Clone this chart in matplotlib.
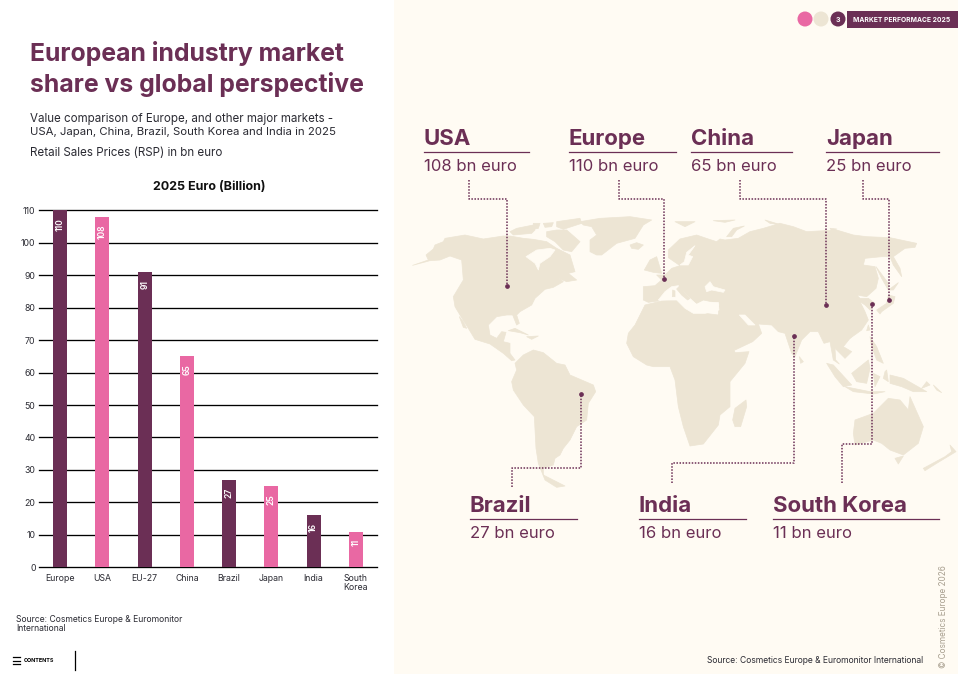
"""European industry market share vs global perspective - bar chart and map page."""

import matplotlib
matplotlib.use("Agg")
import matplotlib.pyplot as plt
from matplotlib.patches import Circle, Polygon, Rectangle

# bar chart data
categories = ["Europe", "USA", "EU-27", "China", "Brazil", "Japan", "India", "South\nKorea"]
values = [110, 108, 91, 65, 27, 25, 16, 11]
y_ticks = [0, 10, 20, 30, 40, 50, 60, 70, 80, 90, 100, 110]

# map callouts
map_names = ["USA", "Europe", "China", "Japan", "Brazil", "India", "South Korea"]
map_values = [108, 110, 65, 25, 27, 16, 11]

DARK = "#6B2F55"
PINK = "#E968A3"
SAND = "#EDE5D4"
PANEL = "#FFFBF3"
INK = "#2B2B33"

W, H = 958, 674

plt.rcParams["font.family"] = ["Inter", "DejaVu Sans"]

# outlines, in 3x crop units (x0, y0 is the crop corner)
west_shapes = [
    [(38, 196), (85, 180), (78, 165), (100, 147), (105, 135), (130, 125), (135, 115), (195, 105),
     (250, 117), (310, 108), (330, 108), (370, 115), (400, 118), (440, 125), (470, 145), (510, 165),
     (525, 215), (505, 220), (530, 240), (500, 245), (475, 235), (490, 245), (460, 262), (435, 268),
     (405, 295), (395, 315), (360, 335), (350, 345), (358, 370), (350, 375), (338, 345), (320, 345),
     (290, 350), (265, 375), (270, 405), (290, 415), (305, 395), (318, 397), (310, 425), (330, 430),
     (330, 460), (345, 480), (335, 482), (310, 460), (270, 432), (225, 418), (205, 385), (180, 345),
     (165, 320), (160, 290), (190, 240), (185, 180), (150, 168), (120, 180), (90, 182)],
    [(178, 350), (190, 365), (200, 385), (190, 382)],
    [(330, 95), (350, 85), (400, 75), (405, 90), (395, 100), (340, 105)],
    [(440, 95), (470, 90), (500, 90), (540, 125), (515, 155), (490, 150), (465, 125), (440, 110)],
    [(470, 65), (540, 55), (545, 70), (490, 88), (470, 80)],
    [(400, 70), (420, 70), (415, 85), (400, 88)],
    [(430, 70), (460, 68), (455, 80), (435, 82)],
    [(540, 65), (600, 55), (690, 50), (755, 60), (730, 75), (705, 115), (650, 130), (605, 165),
     (590, 165), (570, 155), (570, 120), (590, 105), (575, 80), (550, 75)],
    [(690, 135), (710, 128), (730, 135), (715, 148), (695, 145)],
    [(325, 392), (345, 385), (385, 405), (360, 398)],
    [(380, 410), (415, 408), (395, 418)],
    [(335, 545), (350, 510), (345, 490), (370, 465), (400, 450), (430, 458), (470, 490), (495, 495),
     (510, 525), (580, 555), (587, 575), (565, 610), (560, 660), (530, 680), (510, 720), (490, 745),
     (480, 765), (465, 775), (460, 795), (430, 805), (430, 825), (495, 858), (470, 862), (435, 840),
     (415, 790), (408, 745), (403, 650), (370, 615), (340, 570)],
]
west_water = [
    [(378, 170), (410, 150), (450, 145), (465, 150), (450, 170), (420, 190), (415, 210), (405, 190)],
]
east_shapes = [
    # Eurasia
    [(-80, 260), (-45, 257), (-25, 240), (-40, 225), (-15, 225), (5, 205), (30, 197), (-5, 173),
     (-5, 150), (30, 117), (80, 105), (115, 117), (140, 125), (150, 117), (165, 120), (205, 115),
     (240, 95), (280, 85), (330, 70), (370, 80), (410, 95), (500, 90), (550, 105), (590, 110),
     (660, 113), (740, 130), (735, 142), (705, 145), (670, 170), (690, 205), (695, 230), (670, 195),
     (660, 170), (635, 170), (585, 175), (580, 195), (615, 200), (625, 235), (618, 265), (590, 290),
     (560, 285), (570, 295), (595, 295), (615, 310), (600, 330), (585, 315), (570, 305), (585, 335),
     (595, 360), (575, 390), (540, 415), (520, 440), (545, 455), (525, 475), (495, 445), (497, 480),
     (508, 492), (490, 480), (480, 425), (462, 430), (445, 395), (420, 395), (395, 420), (375, 470),
     (365, 460), (345, 400), (325, 395), (305, 375), (265, 372), (275, 400), (248, 425), (195, 450),
     (140, 358), (145, 345), (148, 310), (100, 300), (80, 310), (60, 295), (30, 280), (0, 262),
     (-35, 303), (-65, 307), (-80, 300)],
    # Africa
    [(-75, 315), (-25, 303), (20, 300), (45, 325), (70, 340), (105, 340), (145, 345), (190, 440),
     (195, 458), (237, 455), (225, 490), (180, 545), (180, 620), (150, 645), (145, 675), (100, 732),
     (60, 738), (40, 680), (25, 620), (15, 540), (0, 500), (-50, 500), (-70, 495), (-110, 470),
     (-130, 430), (-125, 400), (-105, 375)],
    [(195, 625), (228, 600), (230, 620), (212, 680), (195, 680), (188, 660)],
    [(388, 470), (400, 485), (392, 490)],
    [(-77, 210), (-60, 180), (-40, 170), (-25, 220), (-50, 217)],
    [(170, 110), (190, 85), (223, 78), (200, 90), (185, 110)],
    [(15, 65), (75, 65), (45, 80)],
    [(130, 62), (195, 60), (165, 67)],
    [(285, 60), (335, 75), (300, 70)],
    [(480, 85), (500, 87), (485, 92)],
    [(618, 200), (655, 250), (655, 270), (635, 235)],
    [(655, 270), (685, 248), (670, 270)],
    [(620, 330), (650, 310), (655, 285), (675, 290), (670, 310), (635, 335), (630, 342)],
    [(595, 375), (600, 390), (590, 392)],
    [(535, 400), (548, 405), (540, 415)],
    [(600, 410), (620, 440), (640, 490), (620, 480), (605, 440)],
    [(470, 490), (490, 495), (545, 555), (520, 560), (495, 530)],
    [(525, 560), (600, 575), (645, 575), (610, 582), (550, 575)],
    [(545, 520), (595, 480), (600, 505), (590, 550), (560, 545)],
    [(645, 515), (650, 510), (655, 545), (640, 535)],
    [(610, 520), (630, 530), (615, 560)],
    [(660, 525), (700, 535), (770, 575), (730, 575), (695, 560), (660, 550)],
    [(770, 545), (780, 555), (755, 565)],
    [(790, 555), (815, 578), (800, 570)],
    [(555, 660), (610, 640), (655, 595), (690, 600), (715, 630), (720, 590), (760, 680), (745, 730),
     (700, 765), (660, 750), (635, 730), (610, 720), (555, 735), (550, 700)],
    [(675, 775), (700, 768), (685, 792)],
    [(840, 735), (858, 755), (800, 790), (765, 812), (760, 805), (825, 770), (845, 755)],
]
east_water = [
    [(105, 260), (120, 245), (130, 260), (165, 270), (160, 277), (125, 270), (110, 275)],
    [(-35, 300), (-15, 275), (5, 260), (25, 257), (50, 285), (65, 300), (80, 315), (100, 307),
     (145, 307), (147, 330), (105, 340), (70, 340), (45, 325), (20, 300), (-25, 300)],
    [(30, 195), (55, 195), (68, 170), (55, 165), (75, 137), (50, 157), (43, 185)],
    [(208, 345), (225, 345), (255, 375), (235, 375)],
]
# bits of land that sit on the water shapes
east_over_water = [
    [(30, 257), (43, 277), (60, 295), (53, 300), (35, 285), (20, 267)],
    [(8, 270), (15, 273), (15, 290), (7, 290)],
]

# dotted leaders: label end -> elbows -> dot, in page pixels
leaders = [
    [(469, 180), (469, 199), (507, 199), (507, 286)],
    [(619, 180), (619, 199), (664, 199), (664, 279)],
    [(740, 180), (740, 199), (826, 199), (826, 305)],
    [(863, 180), (863, 199), (889, 199), (889, 300)],
    [(512, 487), (512, 468), (581, 468), (581, 394)],
    [(672, 483), (672, 463), (794, 463), (794, 336)],
    [(842, 483), (842, 444), (872, 444), (872, 304)],
]
# x start, x end of the rule, y of the name baseline
callouts = [(424, 529, 145), (569, 676, 145), (691, 792, 145), (826, 939, 145),
            (470, 577, 512), (639, 746, 512), (773, 939, 512)]


def add_shapes(ax, shapes, x0, color, zorder):
    for shape in shapes:
        pts = [(x0 + x / 3, 200 + y / 3) for x, y in shape]
        ax.add_patch(Polygon(pts, closed=True, fc=color, ec=color, lw=0.5, joinstyle="round", zorder=zorder))


def add_callouts(ax):
    for path in leaders:
        xs = [p[0] for p in path]
        ys = [p[1] for p in path]
        ax.plot(xs, ys, color=DARK, lw=1.1, ls=(0, (1, 1)), zorder=6)
        ax.plot(xs[-1], ys[-1], "o", color=DARK, ms=2.4, zorder=7)
    for name, val, (x0, x1, y) in zip(map_names, map_values, callouts):
        ax.text(x0, y, name, color=DARK, fontsize=16, fontweight="bold", va="baseline", ha="left")
        ax.plot([x0, x1], [y + 7.3, y + 7.3], color=DARK, lw=0.9, zorder=6)
        ax.text(x0, y + 26, f"{val} bn euro", color=DARK, fontsize=12, va="baseline", ha="left")


def add_header(ax):
    ax.add_patch(Circle((805, 19), 7.5, fc=PINK, ec="none"))
    ax.add_patch(Circle((821, 19), 7.5, fc=SAND, ec="none"))
    ax.add_patch(Circle((838, 19), 7.5, fc=DARK, ec="none"))
    ax.text(838, 19.5, "3", color="white", fontsize=5, fontweight="bold", ha="center", va="center")
    ax.add_patch(Rectangle((847, 11), 111, 17, fc=DARK, ec="none"))
    ax.text(853.5, 19.5, "MARKET PERFORMACE 2025", color="white", fontsize=4.87, fontweight="bold",
            ha="left", va="center")


def main():
    fig = plt.figure(figsize=(W / 100, H / 100), dpi=100, facecolor="white")

    page = fig.add_axes([0, 0, 1, 1])
    page.set_xlim(0, W)
    page.set_ylim(H, 0)
    page.axis("off")
    page.add_patch(Rectangle((394, 0), W - 394, H, fc=PANEL, ec="none", zorder=0))

    add_shapes(page, west_shapes, 400, SAND, 2)
    add_shapes(page, east_shapes, 670, SAND, 2)
    add_shapes(page, west_water, 400, PANEL, 3)
    add_shapes(page, east_water, 670, PANEL, 3)
    add_shapes(page, east_over_water, 670, SAND, 4)
    add_callouts(page)
    add_header(page)

    # left column text
    page.text(30, 61, "European industry market", color=DARK, fontsize=17.85, fontweight="bold")
    page.text(30, 92, "share vs global perspective", color=DARK, fontsize=17.85, fontweight="bold")
    page.text(30, 122, "Value comparison of Europe, and other major markets -", color=INK, fontsize=8.3)
    page.text(30, 135, "USA, Japan, China, Brazil, South Korea and India in 2025", color=INK, fontsize=8.2)
    page.text(30, 156, "Retail Sales Prices (RSP) in bn euro", color=INK, fontsize=8.35)
    page.text(209.5, 187.5, "2025 Euro (Billion)", color="#111111", fontsize=9, fontweight="bold",
              ha="center", va="center")
    page.text(16, 622, "Source: Cosmetics Europe & Euromonitor", color=INK, fontsize=6.2)
    page.text(16, 631, "International", color=INK, fontsize=6.2)
    page.text(707, 663, "Source: Cosmetics Europe & Euromonitor International", color=INK, fontsize=6.14)
    page.text(944, 668, "\u00a9 Cosmetics Europe 2026", color="#A89F8F", fontsize=5.9, rotation=90,
              ha="center", va="bottom")

    # contents tab
    for y in (657, 660.5, 664):
        page.plot([13, 20], [y, y], color="black", lw=0.9)
    page.text(24, 661, "CONTENTS", color="black", fontsize=3.9, fontweight="bold", va="center")
    page.plot([75.5, 75.5], [651, 670], color="black", lw=0.9)

    # bar chart
    x0, x1, y_top, y_bot = 39, 377, 210.3, 567.3
    ax = fig.add_axes([x0 / W, 1 - y_bot / H, (x1 - x0) / W, (y_bot - y_top) / H])
    ax.patch.set_alpha(0)
    positions = list(range(len(categories)))
    colors = [DARK if i % 2 == 0 else PINK for i in positions]
    bars = ax.bar(positions, values, width=0.33, color=colors, zorder=3)
    ax.set_xlim(-0.5, len(categories) - 0.5)
    ax.set_ylim(0, 110)
    ax.set_yticks(y_ticks)
    ax.set_xticks(positions)
    ax.set_xticklabels(categories, linespacing=1.05)
    ax.tick_params(axis="both", length=0, labelsize=6.3, labelcolor=INK)
    ax.tick_params(axis="y", pad=2.5)
    ax.tick_params(axis="x", pad=4.5)
    for tick in y_ticks:
        ax.axhline(tick, color="black", lw=0.95, zorder=1, clip_on=False)
    for side in ax.spines.values():
        side.set_visible(False)
    for bar, val in zip(bars, values):
        ax.annotate(str(val), (bar.get_x() + bar.get_width() / 2, val), xytext=(0, -5.5),
                    textcoords="offset points", rotation=90, ha="center", va="top",
                    color="white", fontsize=6.2, fontweight="semibold", zorder=4)

    fig.savefig("out.png", dpi=100, facecolor="white")


if __name__ == "__main__":
    main()
